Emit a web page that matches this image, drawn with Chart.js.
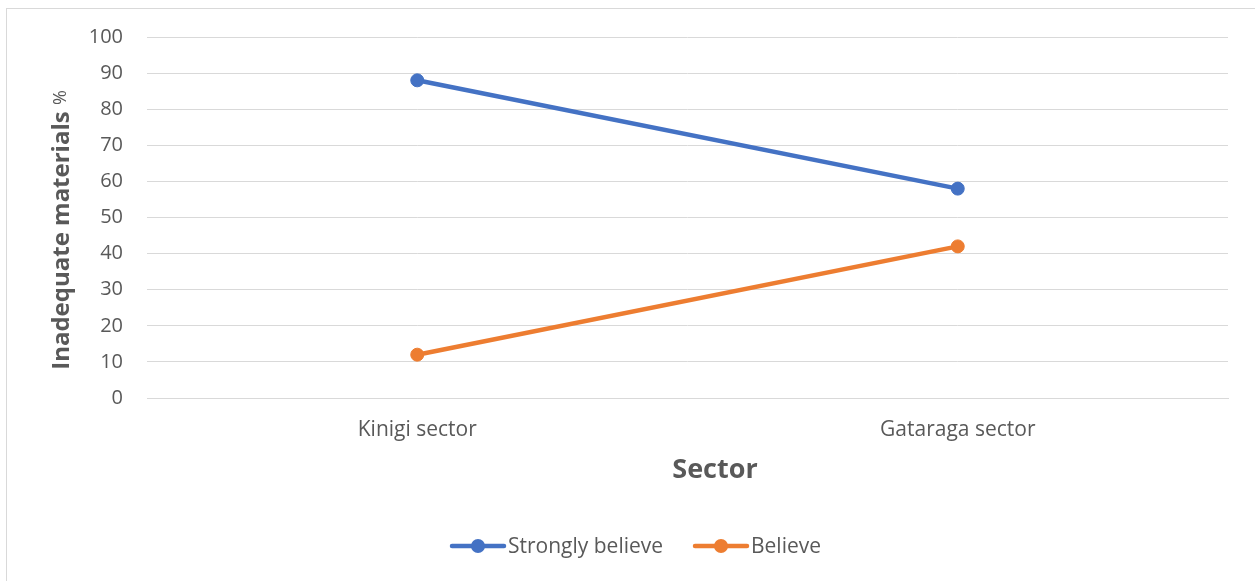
<!DOCTYPE html>
<html>
<head>
<meta charset="utf-8">
<script src="https://cdn.jsdelivr.net/npm/chart.js@4"></script>
<style>
  html, body { margin: 0; padding: 0; background: #fff; overflow: hidden; }
  #wrap { position: relative; width: 1255px; height: 581px; }
  #frame { position: absolute; left: 6px; top: 8px; width: 1270px; height: 600px; border: 1px solid #d9d9d9; }
  canvas { position: absolute; left: 0; top: 0; }
</style>
</head>
<body>
<div id="wrap">
  <div id="frame"></div>
  <canvas id="chart" width="1255" height="581"></canvas>
</div>
<script>
/* ================================================
   Inadequate materials by sector
   ================================================ */

const sectors        = ['Kinigi sector', 'Gataraga sector'];
const stronglyBelieve = [88, 58];
const believe         = [12, 42];
const seriesNames     = ['Strongly believe', 'Believe'];

const BLUE   = '#4472C4';
const ORANGE = '#ED7D31';
const GREY   = '#595959';
const FONT   = '"Open Sans", Lato, sans-serif';

// axis titles: the y one mixes bold text and a plain "%", and the x one
// sits off the plot centre, so both are drawn by hand
const titlesPlugin = {
  id: 'axisTitles',
  afterDraw(chart) {
    const { ctx } = chart;
    const bold  = 'Inadequate materials ';
    const plain = '%';
    ctx.save();
    ctx.fillStyle = GREY;
    ctx.textBaseline = 'middle';

    ctx.font = `bold 27px ${FONT}`;
    ctx.textAlign = 'center';
    ctx.fillText('Sector', 715, 470);

    ctx.translate(62, 230);
    ctx.rotate(-Math.PI / 2);
    ctx.font = `bold 24px ${FONT}`;
    const w1 = ctx.measureText(bold).width;
    ctx.font = `18px ${FONT}`;
    const w2 = ctx.measureText(plain).width;
    let x = -(w1 + w2) / 2;
    ctx.textAlign = 'left';
    ctx.font = `bold 24px ${FONT}`;
    ctx.fillText(bold, x, 0);
    ctx.font = `18px ${FONT}`;
    ctx.fillText(plain, x + w1, -1);
    ctx.restore();
  }
};

// legend: line with a dot, like the office chart
const legendPlugin = {
  id: 'lineLegend',
  afterDraw(chart) {
    const { ctx } = chart;
    const y = 546;
    const items = [
      { x: 450, color: BLUE,   label: seriesNames[0] },
      { x: 693, color: ORANGE, label: seriesNames[1] },
    ];
    ctx.save();
    items.forEach(it => {
      ctx.strokeStyle = it.color;
      ctx.lineWidth = 4.5;
      ctx.lineCap = 'round';
      ctx.beginPath();
      ctx.moveTo(it.x + 2, y);
      ctx.lineTo(it.x + 54, y);
      ctx.stroke();
      ctx.fillStyle = it.color;
      ctx.beginPath();
      ctx.arc(it.x + 28, y, 7, 0, Math.PI * 2);
      ctx.fill();
      ctx.fillStyle = GREY;
      ctx.font = `21px ${FONT}`;
      ctx.textBaseline = 'middle';
      ctx.textAlign = 'left';
      ctx.fillText(it.label, it.x + 58, y + 1);
    });
    ctx.restore();
  }
};

const ctx = document.getElementById('chart').getContext('2d');

new Chart(ctx, {
  type: 'line',
  data: {
    labels: sectors,
    datasets: [
      {
        label: seriesNames[0],
        data: stronglyBelieve,
        borderColor: BLUE,
        backgroundColor: BLUE,
        borderWidth: 4.5,
        pointRadius: 6.5,
        pointBorderWidth: 1,
        pointBackgroundColor: BLUE,
        tension: 0,
      },
      {
        label: seriesNames[1],
        data: believe,
        borderColor: ORANGE,
        backgroundColor: ORANGE,
        borderWidth: 4.5,
        pointRadius: 6.5,
        pointBorderWidth: 1,
        pointBackgroundColor: ORANGE,
        tension: 0,
      },
    ],
  },
  options: {
    responsive: false,
    animation: false,
    layout: { padding: { top: 37, right: 27, left: 0, bottom: 0 } },
    plugins: {
      legend: { display: false },
      tooltip: { enabled: false },
    },
    scales: {
      x: {
        offset: true,
        grid: { display: false, drawTicks: false },
        border: { color: '#d9d9d9', width: 1 },
        ticks: { color: GREY, font: { family: FONT, size: 21 }, padding: 19 },
        afterFit: s => { s.height = 183; },
      },
      y: {
        min: 0,
        max: 100,
        ticks: { stepSize: 10, color: GREY, font: { family: FONT, size: 20 }, padding: 24 },
        grid: { color: '#d9d9d9', lineWidth: 1, drawTicks: false },
        border: { display: false },
        afterFit: s => { s.width = 147; },
      },
    },
  },
  plugins: [titlesPlugin, legendPlugin],
});
</script>
</body>
</html>
